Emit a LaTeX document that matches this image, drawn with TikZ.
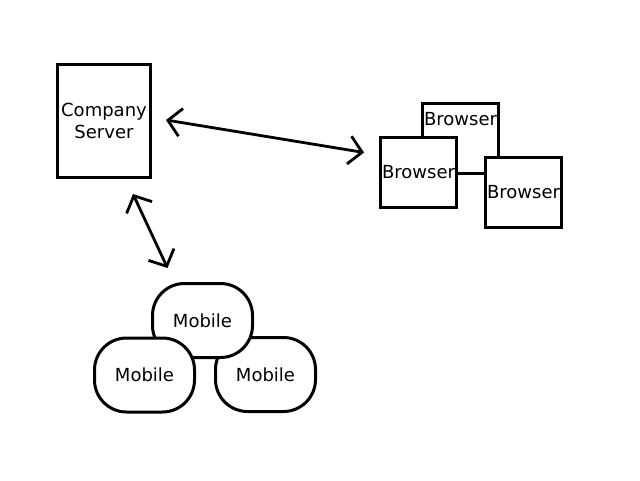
\documentclass[tikz,border=0pt]{standalone}
\usepackage{fontspec}
\setmainfont{DejaVu Sans}
\usetikzlibrary{arrows.meta}

\tikzset{
  box/.style={draw, line width=3pt, fill=white, inner sep=1pt,
    font=\fontsize{18}{22}\selectfont, align=center},
  server/.style={box, minimum width=93pt, minimum height=113pt},
  browser/.style={box, minimum width=76pt, minimum height=70pt},
  mobile/.style={box, rounded corners=32pt, minimum width=100pt, minimum height=74pt},
  link/.style={<->, line width=2.8pt}
}

\begin{document}
\begin{tikzpicture}[x=1pt,y=-1pt,>={Straight Barb[length=13pt,width=28pt]}]
\useasboundingbox (0,0) rectangle (640,480);

% company server
\node[server] (srv) at (104,121) {Company\\Server};

% browsers
\node[browser, label={[anchor=north, inner sep=0pt, yshift=-10pt,
  font=\fontsize{18}{22}\selectfont]north:Browser}] (btop) at (460.5,138.5) {};
\node[browser] (bleft) at (418.5,172.5) {Browser};
\node[browser] (bright) at (523.5,192.5) {Browser};

% mobiles
\node[mobile] (mright) at (265.5,374.5) {Mobile};
\node[mobile] (mtop) at (202.5,320.5) {Mobile};
\node[mobile] (mleft) at (144.5,375) {Mobile};

% links
\draw[link] ([xshift=14pt,yshift=1pt]srv.east) -- ([xshift=-15pt,yshift=20pt]bleft.west);
\draw[link] ([xshift=29pt,yshift=-15pt]srv.south) -- ([xshift=-35pt,yshift=14pt]mtop.north);
\end{tikzpicture}
\end{document}
